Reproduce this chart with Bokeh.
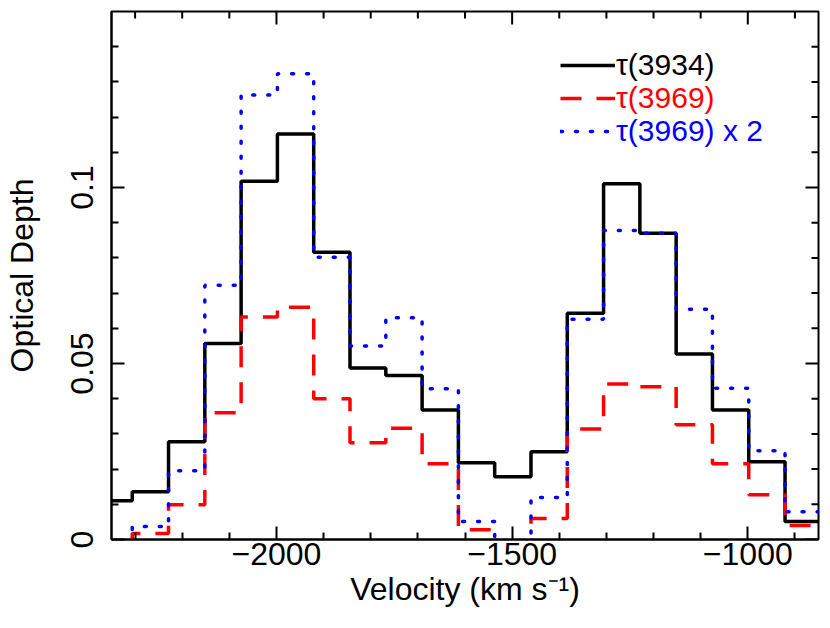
from bokeh.plotting import figure
from bokeh.models import (ColumnDataSource, Range1d, FixedTicker,
                          Legend, LegendItem)
from bokeh.embed import file_html
from bokeh.resources import INLINE

# ---- data ----
bin_edges = [-2382, -2306, -2229, -2152, -2075, -1998, -1921, -1844, -1768,
             -1691, -1614, -1537, -1460, -1383, -1306, -1229, -1152, -1075,
             -998, -921, -845]
tau_3934 = [0.0110, 0.0136, 0.0278, 0.0557, 0.1018, 0.1152, 0.0816, 0.0487,
            0.0466, 0.0368, 0.0218, 0.0178, 0.0249, 0.0643, 0.1011, 0.0870,
            0.0527, 0.0368, 0.0221, 0.0051]
tau_3969 = [-0.0020, 0.0017, 0.0099, 0.0360, 0.0632, 0.0660, 0.0400, 0.0275,
            0.0316, 0.0215, 0.0028, -0.0030, 0.0060, 0.0314, 0.0442, 0.0434,
            0.0326, 0.0215, 0.0127, 0.0040]
tau_3969_x2 = [-0.0040, 0.0037, 0.0195, 0.0722, 0.1263, 0.1323, 0.0802, 0.0550,
               0.0630, 0.0428, 0.0051, -0.0060, 0.0119, 0.0626, 0.0878, 0.0870,
               0.0654, 0.0430, 0.0252, 0.0079]

x_limits = [-2350, -850]
y_limits = [0, 0.15]
x_major_ticks = [-2000, -1500, -1000]
x_tick_labels = ["\u22122000", "\u22121500", "\u22121000"]
x_minor_ticks = [-2300, -2200, -2100, -1900, -1800, -1700, -1600, -1400,
                 -1300, -1200, -1100, -900]
y_major_ticks = [0, 0.05, 0.1]
y_tick_labels = ["0", "0.05", "0.1"]
y_minor_ticks = [0.01, 0.02, 0.03, 0.04, 0.06, 0.07, 0.08, 0.09, 0.11,
                 0.12, 0.13, 0.14]

legend_labels = ["\u03c4(3934)", "\u03c4(3969)", "\u03c4(3969) x 2"]

FONT = "Liberation Sans"
TICK_FS = "32px"
LABEL_FS = "32px"
MAJ_LEN = 13
MIN_LEN = 7

p = figure(width=822, height=620, output_backend="svg", toolbar_location=None,
           x_range=Range1d(*x_limits), y_range=Range1d(*y_limits),
           min_border_left=108, min_border_right=4, min_border_top=11,
           min_border_bottom=81)
p.grid.visible = False
p.outline_line_color = "black"
p.outline_line_width = 2
p.background_fill_color = "white"
p.border_fill_color = "white"

src = ColumnDataSource(dict(
    x=bin_edges,
    k=tau_3934 + [tau_3934[-1]],
    h=tau_3969 + [tau_3969[-1]],
    h2=tau_3969_x2 + [tau_3969_x2[-1]],
))

r_k = p.step("x", "k", source=src, mode="after", line_color="black",
             line_width=3.5)
r_h = p.step("x", "h", source=src, mode="after", line_color="#ff0000",
             line_width=3.5, line_dash="21 15")
r_h2 = p.step("x", "h2", source=src, mode="after", line_color="#0000ff",
              line_width=3.5, line_dash="2 13", line_cap="round")


def style_axis(ax, ticks, minor, labels):
    ax.ticker = FixedTicker(ticks=ticks, minor_ticks=minor)
    ax.axis_line_width = 2
    ax.axis_line_color = "black"
    ax.major_tick_in = MAJ_LEN
    ax.major_tick_out = 0
    ax.minor_tick_in = MIN_LEN
    ax.minor_tick_out = 0
    ax.major_tick_line_width = 2
    ax.minor_tick_line_width = 2
    ax.major_label_overrides = {t: l for t, l in zip(ticks, labels)}
    ax.major_label_text_font = FONT
    ax.major_label_text_font_size = TICK_FS
    ax.major_label_text_color = "black"
    ax.axis_label_text_font = FONT
    ax.axis_label_text_font_size = LABEL_FS
    ax.axis_label_text_font_style = "normal"
    ax.axis_label_text_color = "black"


xb = p.xaxis[0]
style_axis(xb, x_major_ticks, x_minor_ticks, x_tick_labels)
xb.major_label_standoff = 3
xb.axis_label = "Velocity (km s\u207b\u00b9)"
xb.axis_label_standoff = 3

yl = p.yaxis[0]
style_axis(yl, y_major_ticks, y_minor_ticks, y_tick_labels)
yl.major_label_orientation = "vertical"
yl.major_label_standoff = 19
yl.axis_label = "Optical Depth"
yl.axis_label_standoff = 28

# inward ticks on the top and right frame edges (mirroring the axes)
top_y = y_limits[1]
right_x = x_limits[1]
p.ray(x=x_major_ticks, y=[top_y] * len(x_major_ticks), length=MAJ_LEN,
      length_units="screen", angle=-90, angle_units="deg",
      line_color="black", line_width=2)
p.ray(x=x_minor_ticks, y=[top_y] * len(x_minor_ticks), length=MIN_LEN,
      length_units="screen", angle=-90, angle_units="deg",
      line_color="black", line_width=2)
p.ray(x=[right_x] * len(y_major_ticks), y=y_major_ticks, length=MAJ_LEN,
      length_units="screen", angle=180, angle_units="deg",
      line_color="black", line_width=2)
p.ray(x=[right_x] * len(y_minor_ticks), y=y_minor_ticks, length=MIN_LEN,
      length_units="screen", angle=180, angle_units="deg",
      line_color="black", line_width=2)

legend_rows = [(legend_labels[0], r_k, "black", 457),
               (legend_labels[1], r_h, "#ff0000", 424),
               (legend_labels[2], r_h2, "#0000ff", 391)]
for lab, rend, col, ypos in legend_rows:
    leg = Legend(items=[LegendItem(label=lab, renderers=[rend])],
                 location=(449, ypos), orientation="vertical",
                 glyph_width=55, glyph_height=20, label_standoff=1,
                 label_height=20, padding=0, margin=0, spacing=0,
                 border_line_color=None, background_fill_alpha=0,
                 label_text_font=FONT, label_text_font_size="30px",
                 label_text_color=col)
    p.add_layout(leg)

open("out.html", "w").write(file_html(p, INLINE))
